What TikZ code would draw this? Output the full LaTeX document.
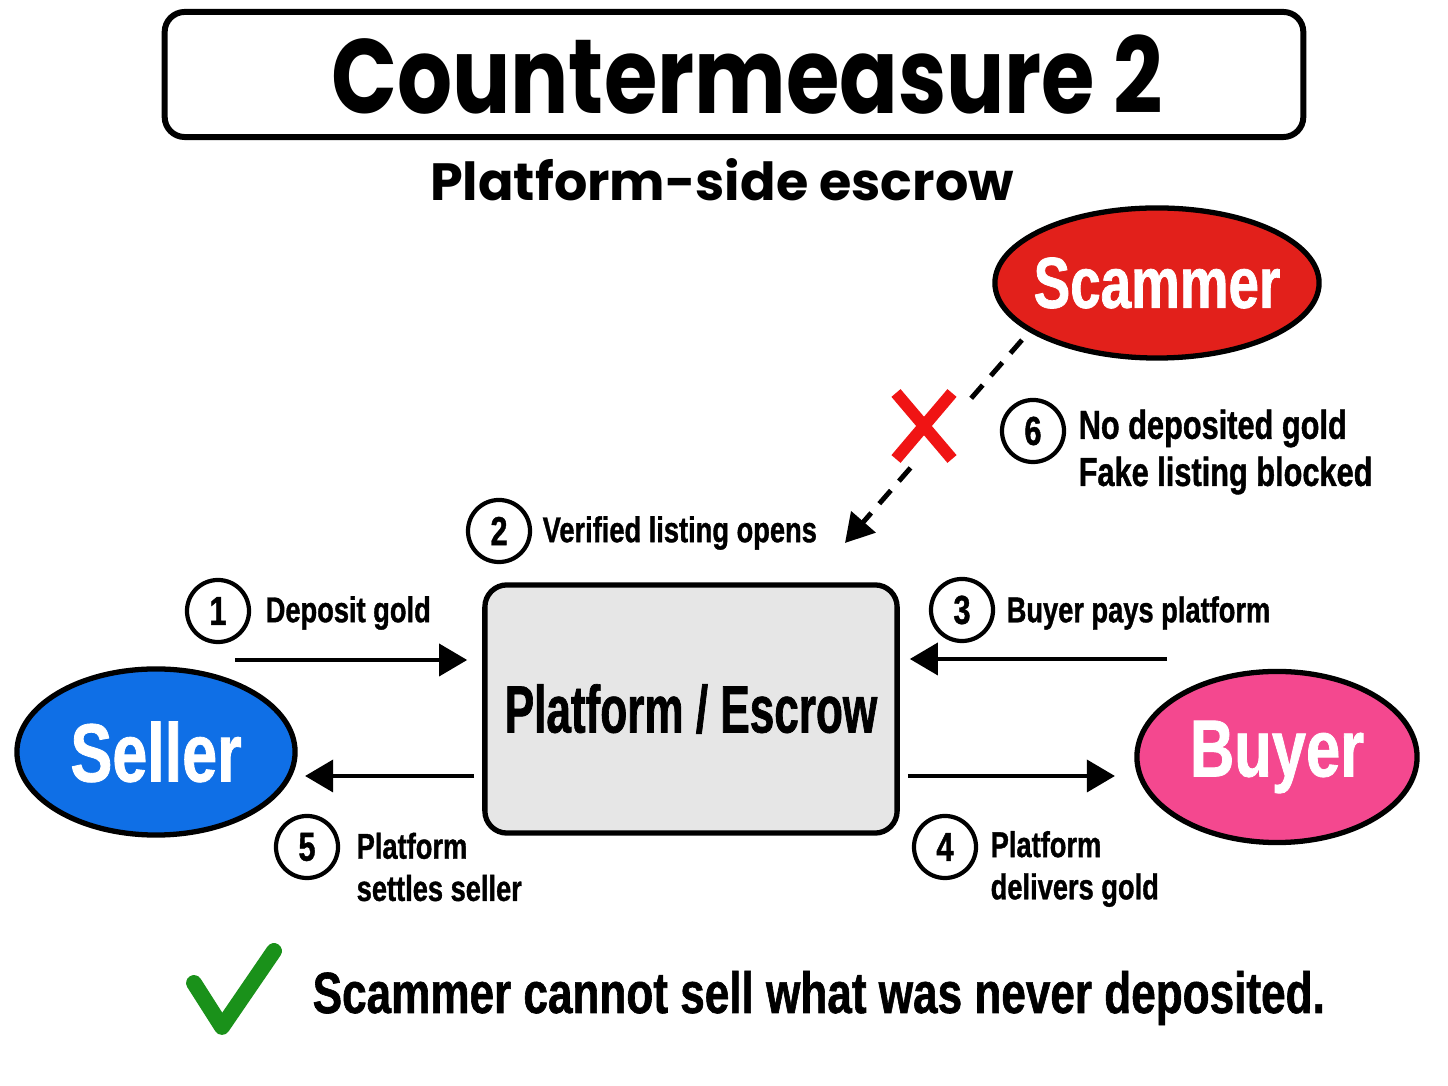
\documentclass[tikz,border=0pt]{standalone}
\usepackage{fontspec}
\setmainfont{Liberation Sans}
\newfontfamily\headfont{Poppins}
\newfontfamily\titlefont{Poppins}[FakeStretch=0.82]
\newfontfamily\narrowfont{Liberation Sans}[FakeStretch=0.76,FakeBold=1]
\newfontfamily\tightfont{Liberation Sans}[FakeStretch=0.66,FakeBold=1]
\usetikzlibrary{arrows.meta,shapes.geometric,calc}
\definecolor{scamred}{HTML}{E2201B}
\definecolor{sellblue}{HTML}{0F6FE6}
\definecolor{buypink}{HTML}{F4488F}
\definecolor{boxgray}{HTML}{E6E6E6}
\definecolor{okgreen}{HTML}{1A911A}
\definecolor{xred}{HTML}{F01414}
\begin{document}
\begin{tikzpicture}[x=0.01cm,y=-0.01cm,
    party/.style={ellipse,draw=black,line width=1.5pt,inner sep=-0.3cm,text=white},
    stepno/.style={circle,draw=black,line width=1.2pt,minimum size=0.62cm,inner sep=0pt,
      font=\narrowfont\bfseries\fontsize{11.5}{11.5}\selectfont},
    steptext/.style={anchor=west,align=left,inner sep=0pt,
      font=\narrowfont\bfseries\fontsize{10.2}{12}\selectfont},
    flow/.style={line width=1.4pt,-{Triangle[length=8pt,width=9pt]}},
    scamflow/.style={line width=1.4pt,dash pattern=on 5pt off 3.5pt}]
  \useasboundingbox (0,0) rectangle (1448,1086);
  \fill[white] (0,0) rectangle (1448,1086);

  % heading
  \node[draw,line width=1.7pt,rounded corners=0.2cm,
        minimum width=11.38cm,minimum height=1.25cm] (titlebox) at (734,74.5) {};
  \node (title) at (747,75) {\titlefont\bfseries\fontsize{30}{30}\selectfont Countermeasure 2};
  \node (subtitle) at (722,180) {\headfont\bfseries\fontsize{14.9}{14.9}\selectfont Platform-side escrow};

  % parties and escrow
  \node[party,fill=scamred,minimum width=3.24cm,minimum height=1.5cm,
        font=\narrowfont\bfseries\fontsize{20.5}{20.5}\selectfont] (scammer) at (1157,283) {Scammer};
  \node[party,fill=sellblue,minimum width=2.78cm,minimum height=1.66cm,
        font=\narrowfont\bfseries\fontsize{23.5}{23.5}\selectfont] (seller) at (156,752) {Seller};
  \node[party,fill=buypink,minimum width=2.8cm,minimum height=1.71cm,
        font=\narrowfont\bfseries\fontsize{23}{23}\selectfont] (buyer) at (1277,757) {Buyer};
  \node[draw,fill=boxgray,line width=1.5pt,rounded corners=0.22cm,
        minimum width=4.12cm,minimum height=2.48cm,
        font=\tightfont\bfseries\fontsize{19}{19}\selectfont] (platform) at (691,709) {Platform / Escrow};

  % steps
  \coordinate (dep) at (235,660);
  \coordinate (pay) at (1167,659);
  \coordinate (settle) at (305,776);
  \coordinate (deliver) at (1115,776);
  \draw[flow,shorten >=0.15cm] (dep) -- (dep -| platform.west);
  \draw[flow,shorten >=0.1cm] (pay) -- (pay -| platform.east);
  \draw[flow,shorten <=0.08cm] (settle -| platform.west) -- (settle);
  \draw[flow,shorten <=0.08cm] (deliver -| platform.east) -- (deliver);

  \node[stepno] (n1) at (218,611) {1};
  \node[steptext] (t1) at (265,613) {Deposit gold};
  \node[stepno] (n2) at (499,531) {2};
  \node[steptext] (t2) at (542,533) {Verified listing opens};
  \node[stepno] (n3) at (962,610) {3};
  \node[steptext] (t3) at (1006,613) {Buyer pays platform};
  \node[stepno] (n4) at (945,847) {4};
  \node[steptext] (t4) at (990,869) {Platform\\delivers gold};
  \node[stepno] (n5) at (307,847) {5};
  \node[steptext] (t5) at (356,867) {Platform\\settles seller};
  \node[stepno] (n6) at (1033,431) {6};
  \node[steptext,font=\narrowfont\bfseries\fontsize{11.5}{13.4}\selectfont] (t6) at (1078,452)
       {No deposited gold\\Fake listing blocked};

  % blocked listing
  \coordinate (fakefrom) at (1022,340);
  \coordinate (fakeend) at (845,543);
  \coordinate (blockmark) at (924,426);
  \draw[scamflow] (fakefrom) -- ($(fakefrom)!0.3!(fakeend)$);
  \draw[scamflow,-{Triangle[length=8pt,width=9pt]}] ($(fakefrom)!0.63!(fakeend)$) -- (fakeend);
  \draw[xred,line width=3.4pt] ([shift={(-28,-33)}]blockmark) -- ([shift={(28,33)}]blockmark)
                               ([shift={(-28,33)}]blockmark) -- ([shift={(28,-33)}]blockmark);

  % verdict
  \draw[okgreen,line width=4.5pt,line cap=round,line join=round] (194,983) -- (222,1027) -- (274,951);
  \node[anchor=west,inner sep=0pt,font=\narrowfont\bfseries\fontsize{16.5}{16.5}\selectfont] (verdict)
       at (312,998) {Scammer cannot sell what was never deposited.};
\end{tikzpicture}
\end{document}
